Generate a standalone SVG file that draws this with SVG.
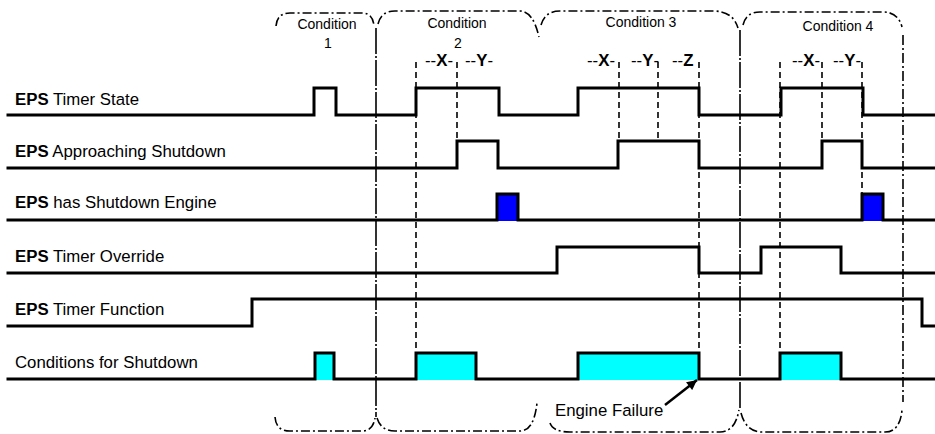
<svg xmlns="http://www.w3.org/2000/svg" width="935" height="434" viewBox="0 0 935 434">
<style>
text{font-family:"Liberation Sans",Arial,sans-serif;fill:#000}
.lbl{font-size:16.8px}
.b{font-weight:bold}
.cond{font-size:14px;text-anchor:middle}
.mk{font-size:16.8px}
.sig{fill:none;stroke:#000;stroke-width:3;stroke-linejoin:miter;stroke-linecap:square}
.blue{fill:#0000FF}
.cyan{fill:#00FFFF}
.dash{fill:none;stroke:#000;stroke-width:1.6;stroke-dasharray:6 4}
.br{fill:none;stroke:#000;stroke-width:1.6;stroke-dasharray:9 3 2 3}
.div{fill:none;stroke:#000;stroke-width:1.6;stroke-dasharray:26 2 2 2}
.div2{fill:none;stroke:#000;stroke-width:1.6;stroke-dasharray:10 3 2 3}
</style>
<defs>
<marker id="ah" viewBox="0 0 10 10" refX="10" refY="5" markerWidth="4.5" markerHeight="4" orient="auto" markerUnits="strokeWidth">
<path d="M0,0 L10,5 L0,10 z" fill="#000"/>
</marker>
</defs>

<g id="conditions">
<g id="condition1">
<path class="br" d="M276,26 Q277,13 290,13 L362,13 Q373,13 374,26"/>
<path class="br" d="M275,417 Q276,431 290,431 L362,431 Q373,431 375,418"/>
<text class="cond" x="327" y="29">Condition</text>
<text class="cond" x="328" y="48">1</text>
</g>
<g id="condition2">
<path class="br" d="M378,24 Q381,11 395,11 L520,11 Q533,11 539,37"/>
<path class="br" d="M377,418 Q381,431 395,431 L520,431 Q534,431 537,403"/>
<text class="cond" x="457" y="28">Condition</text>
<text class="cond" x="458" y="48">2</text>
</g>
<g id="condition3">
<path class="br" d="M541,25 Q545,11 560,11 L713,11 Q733,11 738,28"/>
<path class="br" d="M550,423 Q553,432 570,432 L720,432 Q735,432 739,410"/>
<text class="cond" x="641" y="27">Condition 3</text>
</g>
<g id="condition4">
<path class="br" d="M743,25 Q746,12 760,12 L883,12 Q898,12 902,27"/>
<path class="br" d="M741,413 Q746,432 762,432 L885,432 Q900,432 902,410"/>
<text class="cond" x="838" y="31">Condition 4</text>
</g>
<g id="dividers">
<line class="div" x1="376" y1="28" x2="376" y2="417"/>
<line class="div" x1="740" y1="30" x2="740" y2="410"/>
<line class="div2" x1="903" y1="35" x2="903" y2="402"/>
</g>
</g>

<g id="markers">
<line class="dash" x1="416" y1="62" x2="416" y2="353"/>
<line class="dash" x1="457" y1="62" x2="457" y2="141"/>
<line class="dash" x1="619" y1="62" x2="619" y2="141"/>
<line class="dash" x1="658" y1="62" x2="658" y2="141"/>
<line class="dash" x1="699" y1="62" x2="699" y2="353"/>
<line class="dash" x1="780" y1="62" x2="780" y2="353"/>
<line class="dash" x1="822" y1="62" x2="822" y2="141"/>
<line class="dash" x1="862" y1="62" x2="862" y2="194"/>
<text class="mk" x="425" y="66">--<tspan class="b">X</tspan>-</text>
<text class="mk" x="465" y="66">--<tspan class="b">Y</tspan>-</text>
<text class="mk" x="587" y="66">--<tspan class="b">X</tspan>-</text>
<text class="mk" x="631" y="66">--<tspan class="b">Y</tspan>-</text>
<text class="mk" x="672" y="66">--<tspan class="b">Z</tspan></text>
<text class="mk" x="792" y="66">--<tspan class="b">X</tspan>-</text>
<text class="mk" x="833" y="66">--<tspan class="b">Y</tspan>-</text>
</g>

<g id="timer-state">
<text class="lbl" x="15" y="105"><tspan class="b">EPS</tspan> Timer State</text>
<polyline class="sig" points="8,115 314,115 314,88 336,88 336,115 416,115 416,88 499,88 499,115 578,115 578,88 699,88 699,115 781,115 781,88 863,88 863,115 935,115"/>
</g>
<g id="approaching-shutdown">
<text class="lbl" x="15" y="157"><tspan class="b">EPS</tspan> Approaching Shutdown</text>
<polyline class="sig" points="8,168 457,168 457,141 498,141 498,168 618,168 618,141 699,141 699,168 822,168 822,141 862,141 862,168 935,168"/>
</g>
<g id="shutdown-engine">
<text class="lbl" x="15" y="208"><tspan class="b">EPS</tspan> has Shutdown Engine</text>
<rect class="blue" x="497" y="194" width="21" height="27"/>
<rect class="blue" x="862" y="194" width="21" height="27"/>
<polyline class="sig" points="8,220 497,220 497,194 518,194 518,220 862,220 862,194 883,194 883,220 935,220"/>
</g>
<g id="timer-override">
<text class="lbl" x="15" y="262"><tspan class="b">EPS</tspan> Timer Override</text>
<polyline class="sig" points="8,273 557,273 557,247 699,247 699,273 761,273 761,247 841,247 841,273 935,273"/>
</g>
<g id="timer-function">
<text class="lbl" x="15" y="315"><tspan class="b">EPS</tspan> Timer Function</text>
<polyline class="sig" points="8,326 252,326 252,299 922,299 922,326 935,326"/>
</g>
<g id="conditions-for-shutdown">
<text class="lbl" x="15" y="368">Conditions for Shutdown</text>
<rect class="cyan" x="315" y="353" width="19" height="27"/>
<rect class="cyan" x="416" y="353" width="60" height="27"/>
<rect class="cyan" x="578" y="353" width="121" height="27"/>
<rect class="cyan" x="780" y="353" width="61" height="27"/>
<polyline class="sig" points="8,379 315,379 315,353 334,353 334,379 416,379 416,353 476,353 476,379 578,379 578,353 699,353 699,379 780,379 780,353 841,353 841,379 935,379"/>
</g>

<g id="engine-failure">
<text class="lbl" x="555" y="416">Engine Failure</text>
<line x1="665" y1="405" x2="697" y2="380" stroke="#000" stroke-width="2.5" marker-end="url(#ah)"/>
</g>
</svg>
